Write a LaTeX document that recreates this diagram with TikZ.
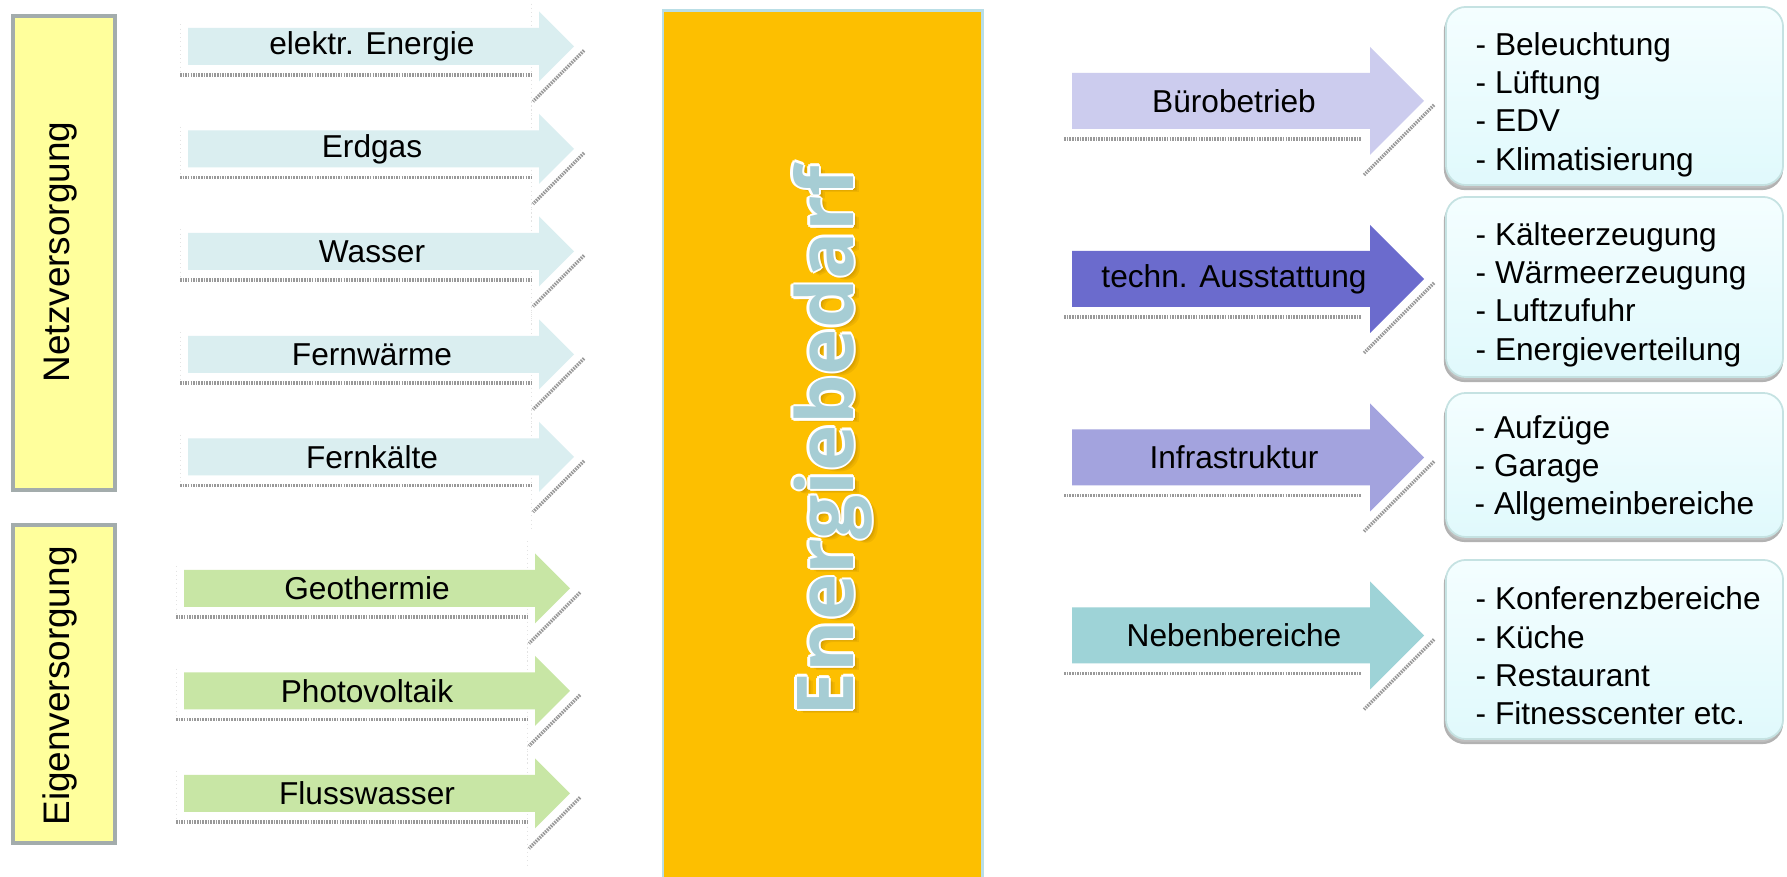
\documentclass[tikz,border=0pt]{standalone}
\usepackage{fontspec}
\setmainfont{Liberation Sans}
\newfontfamily\energyfont{Open Sans}
\definecolor{sideyellow}{HTML}{FFFF9C}
\definecolor{sidegray}{HTML}{A3ACAC}
\definecolor{netzblue}{HTML}{DAEEF0}
\definecolor{eigengreen}{HTML}{C8E6A5}
\definecolor{centerorange}{HTML}{FDBF00}
\definecolor{centerborder}{HTML}{B9DEE6}
\definecolor{bueroc}{HTML}{CCCCEE}
\definecolor{technc}{HTML}{6B6BCD}
\definecolor{infrac}{HTML}{A3A3DE}
\definecolor{nebenc}{HTML}{9ED3D7}
\definecolor{boxtop}{HTML}{F4FEFF}
\definecolor{boxbot}{HTML}{E0F9FC}
\definecolor{boxborder}{HTML}{C5E2E2}
\definecolor{energycyan}{HTML}{A6CDD4}
\definecolor{energyshadow}{HTML}{B07E00}
\tikzset{
  lbl/.style={font=\fontsize{9pt}{10.9pt}\selectfont, inner sep=0pt, text=black},
  sidelbl/.style={font=\fontsize{10.5pt}{12pt}\selectfont, inner sep=0pt, rotate=90, anchor=base},
  sidebox/.style={draw=sidegray, line width=1.2pt, fill=sideyellow, minimum width=1.02cm, inner sep=0pt},
  centerbox/.style={draw=centerborder, line width=0.8pt, fill=centerorange, minimum width=3.19cm, minimum height=8.79cm, inner sep=0pt},
  listbox/.style={draw=boxborder, line width=0.5pt, rounded corners=0.2cm, top color=boxtop, bottom color=boxbot, minimum width=3.37cm, inner sep=0pt},
  listshadow/.style={draw=gray!60, line width=0.6pt, fill=gray!50, rounded corners=0.2cm, minimum width=3.37cm, inner sep=0pt},
  shadowline/.style={draw=gray!80, line width=1pt, dash pattern=on 0.45pt off 0.3pt},
  faintline/.style={draw=gray!22, line width=0.2pt, densely dotted},
  energytxt/.style={rotate=90, anchor=base, inner sep=0pt, font=\fontsize{22.3pt}{28pt}\energyfont\bfseries}
}
% #1 left, #2 head base, #3 tip, #4 centre y, #5 body half, #6 head half, #7 colour
\newcommand\arrowshape[7]{%
  \draw[shadowline] ({#1-8},{#4+#5+10}) -- ({#2-8},{#4+#5+10});
  \draw[shadowline] ({#3+10},{#4+4}) -- ({#2-6},{#4+#6+20});
  \fill[#7] (#1,{#4-#5}) -- (#2,{#4-#5}) -- (#2,{#4-#6}) -- (#3,#4) -- (#2,{#4+#6}) -- (#2,{#4+#5}) -- (#1,{#4+#5}) -- cycle;
}
\begin{document}
\begin{tikzpicture}[x=0.01cm,y=-0.01cm]
\fill[white] (0,0) rectangle (1787,877);
\useasboundingbox (0,0) rectangle (1787,877);

% side boxes
\node[sidebox, minimum height=4.74cm] (netzbox) at (64,253) {};
\node[sidelbl] (netz) at (70,252) {Netzversorgung};
\node[sidebox, minimum height=3.18cm] (eigenbox) at (64,684) {};
\node[sidelbl] (eigen) at (70,686) {Eigenversorgung};

% left arrows (Netzversorgung)
\foreach \cy in {46.5,149,251.5,354.5,457}{
  \draw[faintline] (180,{\cy-22}) -- (180,{\cy+28});
  \draw[faintline] (531,{\cy-47}) -- (531,{\cy+73});
  \arrowshape{188}{539}{574}{\cy}{18.5}{35}{netzblue}
}
\node[lbl] (elektr) at (372,46.5) {elektr. Energie};
\node[lbl] (erdgas) at (372,149) {Erdgas};
\node[lbl] (wasser) at (372,251.5) {Wasser};
\node[lbl] (fernw) at (372,354.5) {Fernwärme};
\node[lbl] (fernk) at (372,457) {Fernkälte};

% left arrows (Eigenversorgung)
\foreach \cy in {588.5,691,793.5}{
  \draw[faintline] (176,{\cy-22}) -- (176,{\cy+28});
  \draw[faintline] (527,{\cy-47}) -- (527,{\cy+73});
  \arrowshape{184}{535}{570}{\cy}{18.5}{35}{eigengreen}
}
\node[lbl] (geo) at (367,588.5) {Geothermie};
\node[lbl] (pv) at (367,691) {Photovoltaik};
\node[lbl] (fluss) at (367,793.5) {Flusswasser};

% centre
\node[centerbox] (center) at (822.5,450.5) {};
\foreach \k in {1,...,4}{
  \node[energytxt, text=energyshadow, opacity=0.18] at ({853+1.5*\k},{441+1*\k}) {Energiebedarf};
}
\foreach \dx/\dy in {2.3/0,-2.3/0,0/2.3,0/-2.3,1.6/1.6,-1.6/1.6,1.6/-1.6,-1.6/-1.6}{
  \node[energytxt, text=white] at ({853+\dx},{441+\dy}) {Energiebedarf};
}
\node[energytxt, text=energycyan] (energy) at (853,441) {Energiebedarf};

% right arrows
\arrowshape{1072}{1370}{1424}{101}{28}{54}{bueroc}
\arrowshape{1072}{1370}{1424}{279}{28}{54}{technc}
\arrowshape{1072}{1370}{1424}{457.5}{28}{54}{infrac}
\arrowshape{1072}{1370}{1424}{635.5}{28}{54}{nebenc}
\node[lbl] (buero) at (1234,101) {Bürobetrieb};
\node[lbl] (techn) at (1234,279) {techn. Ausstattung};
\node[lbl] (infra) at (1234,457.5) {Infrastruktur};
\node[lbl] (neben) at (1234,635.5) {Nebenbereiche};

% right list boxes
\node[listshadow, minimum height=1.78cm] (s1) at (1613.5,100) {};
\node[listbox, minimum height=1.78cm] (box1) at (1614.5,96) {};
\node[listshadow, minimum height=1.80cm] (s2) at (1613.5,291) {};
\node[listbox, minimum height=1.80cm] (box2) at (1614.5,287) {};
\node[listshadow, minimum height=1.44cm] (s3) at (1613.5,469) {};
\node[listbox, minimum height=1.44cm] (box3) at (1614.5,465) {};
\node[listshadow, minimum height=1.79cm] (s4) at (1613.5,653.5) {};
\node[listbox, minimum height=1.79cm] (box4) at (1614.5,649.5) {};

\node[lbl, align=left, anchor=west] (list1) at (1475,104.5) {- Beleuchtung\\- Lüftung\\- EDV\\- Klimatisierung};
\node[lbl, align=left, anchor=west] (list2) at (1475,294.5) {- Kälteerzeugung\\- Wärmeerzeugung\\- Luftzufuhr\\- Energieverteilung};
\node[lbl, align=left, anchor=west] (list3) at (1474,468.5) {- Aufzüge\\- Garage\\- Allgemeinbereiche};
\node[lbl, align=left, anchor=west] (list4) at (1475,656) {- Konferenzbereiche\\- Küche\\- Restaurant\\- Fitnesscenter etc.};
\end{tikzpicture}
\end{document}
